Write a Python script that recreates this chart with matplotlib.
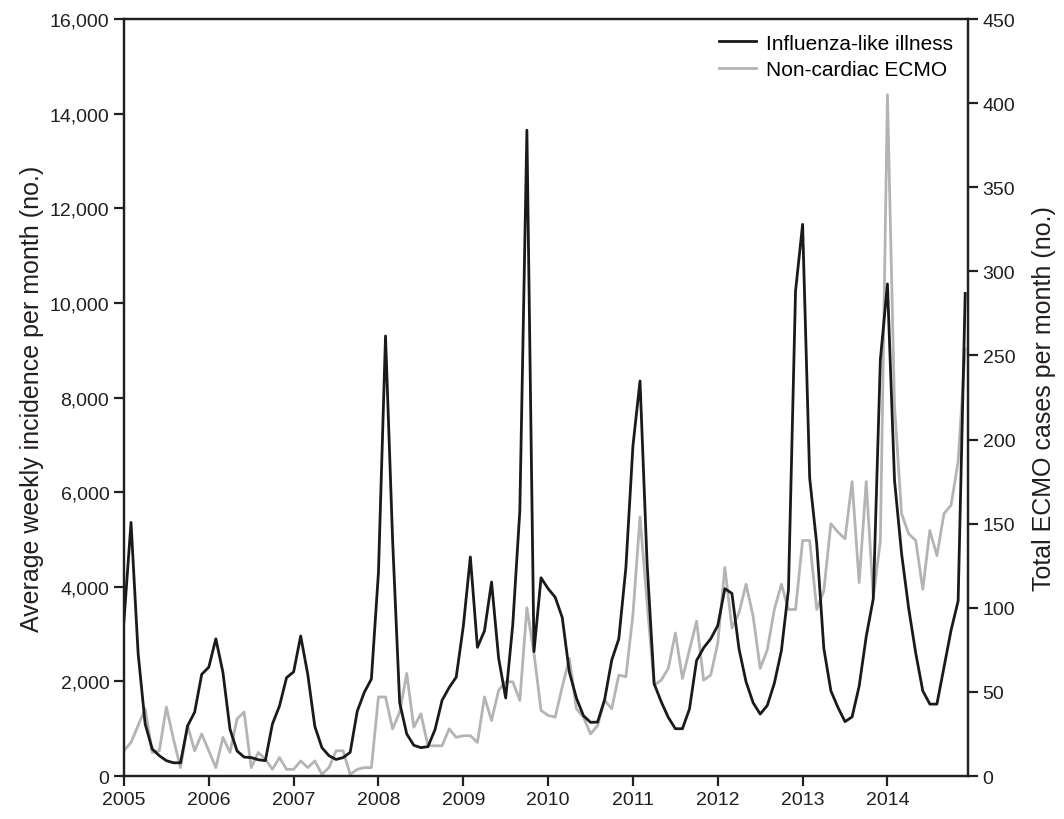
import numpy as np
import matplotlib
matplotlib.use("Agg")
import matplotlib.pyplot as plt
from matplotlib.ticker import FuncFormatter

plt.rcParams['font.family'] = ['Liberation Sans', 'DejaVu Sans']

# monthly values, Jan 2005 - Dec 2014
years = list(range(2005, 2015))

ili = [
    3280, 5360, 2600, 1100, 570, 430, 325, 280, 280, 1060, 1350, 2150,     # 2005
    2300, 2900, 2190, 990, 530, 400, 390, 345, 325, 1100, 1480, 2080,      # 2006
    2200, 2960, 2150, 1050, 600, 430, 350, 390, 500, 1370, 1770, 2050,     # 2007
    4300, 9300, 5000, 1550, 890, 650, 600, 620, 980, 1600, 1870, 2090,     # 2008
    3160, 4630, 2720, 3070, 4100, 2490, 1650, 3200, 5610, 13650, 2630, 4190,  # 2009
    3960, 3780, 3350, 2200, 1650, 1275, 1135, 1140, 1620, 2450, 2900, 4400,   # 2010
    6980, 8350, 4500, 1950, 1570, 1240, 1000, 1000, 1420, 2440, 2710, 2900,   # 2011
    3180, 3960, 3860, 2690, 1990, 1550, 1310, 1490, 1960, 2650, 3940, 10250,  # 2012
    11660, 6300, 4900, 2700, 1800, 1450, 1150, 1250, 1900, 2950, 3750, 8800,  # 2013
    10400, 6250, 4700, 3550, 2600, 1800, 1520, 1520, 2300, 3080, 3700, 10200, # 2014
]

ecmo = [
    15, 20, 30, 40, 14, 15, 41, 22, 5, 30, 15, 25,          # 2005
    15, 5, 23, 14, 34, 38, 5, 14, 10, 4, 11, 4,             # 2006
    4, 9, 5, 9, 1, 5, 15, 15, 1, 4, 5, 5,                   # 2007
    47, 47, 28, 38, 61, 29, 37, 18, 18, 18, 28, 23,         # 2008
    24, 24, 20, 47, 33, 51, 56, 56, 45, 100, 73, 39,        # 2009
    36, 35, 53, 70, 40, 35, 25, 30, 45, 40, 60, 59,         # 2010
    96, 154, 103, 54, 57, 64, 85, 58, 75, 92, 57, 60,       # 2011
    79, 124, 88, 97, 114, 95, 64, 75, 99, 114, 99, 99,      # 2012
    140, 140, 99, 110, 150, 145, 141, 175, 115, 175, 106, 140,  # 2013
    405, 220, 156, 144, 140, 111, 146, 131, 156, 161, 187, 254, # 2014
]

x = years[0] + np.arange(len(ili)) / 12.0

fig = plt.figure(figsize=(10.64, 8.2), dpi=100)
ax = fig.add_axes([0.1165, 0.0524, 0.7933, 0.9232])
ax2 = ax.twinx()

l2, = ax2.plot(x, ecmo, color='#b4b4b4', lw=2.0, label='Non-cardiac ECMO')
l1, = ax.plot(x, ili, color='#1a1a1a', lw=2.0, label='Influenza-like illness')
ax.set_zorder(ax2.get_zorder() + 1)
ax.patch.set_visible(False)

ax.set_xlim(2005, 2014.95)
ax.set_ylim(0, 16000)
ax2.set_ylim(0, 450)
ax.set_xticks(years)
ax.set_yticks(range(0, 16001, 2000))
ax2.set_yticks(range(0, 451, 50))
ax.yaxis.set_major_formatter(FuncFormatter(lambda v, p: f"{int(v):,}"))

for a in (ax, ax2):
    for s in a.spines.values():
        s.set_linewidth(1.6)
        s.set_color('#231f20')
    a.tick_params(direction='out', length=7, width=1.6, color='#231f20',
                  labelsize=14, labelcolor='#231f20')

ax.set_ylabel('Average weekly incidence per month (no.)', fontsize=18, color='#231f20', labelpad=4)
ax2.set_ylabel('Total ECMO cases per month (no.)', fontsize=18, color='#231f20', labelpad=12)

leg = ax.legend(handles=[l1, l2], loc='upper right', frameon=False, fontsize=15,
                handlelength=1.8, handletextpad=0.5, borderaxespad=0.3, labelspacing=0.35)

fig.savefig('out.png', dpi=100)
